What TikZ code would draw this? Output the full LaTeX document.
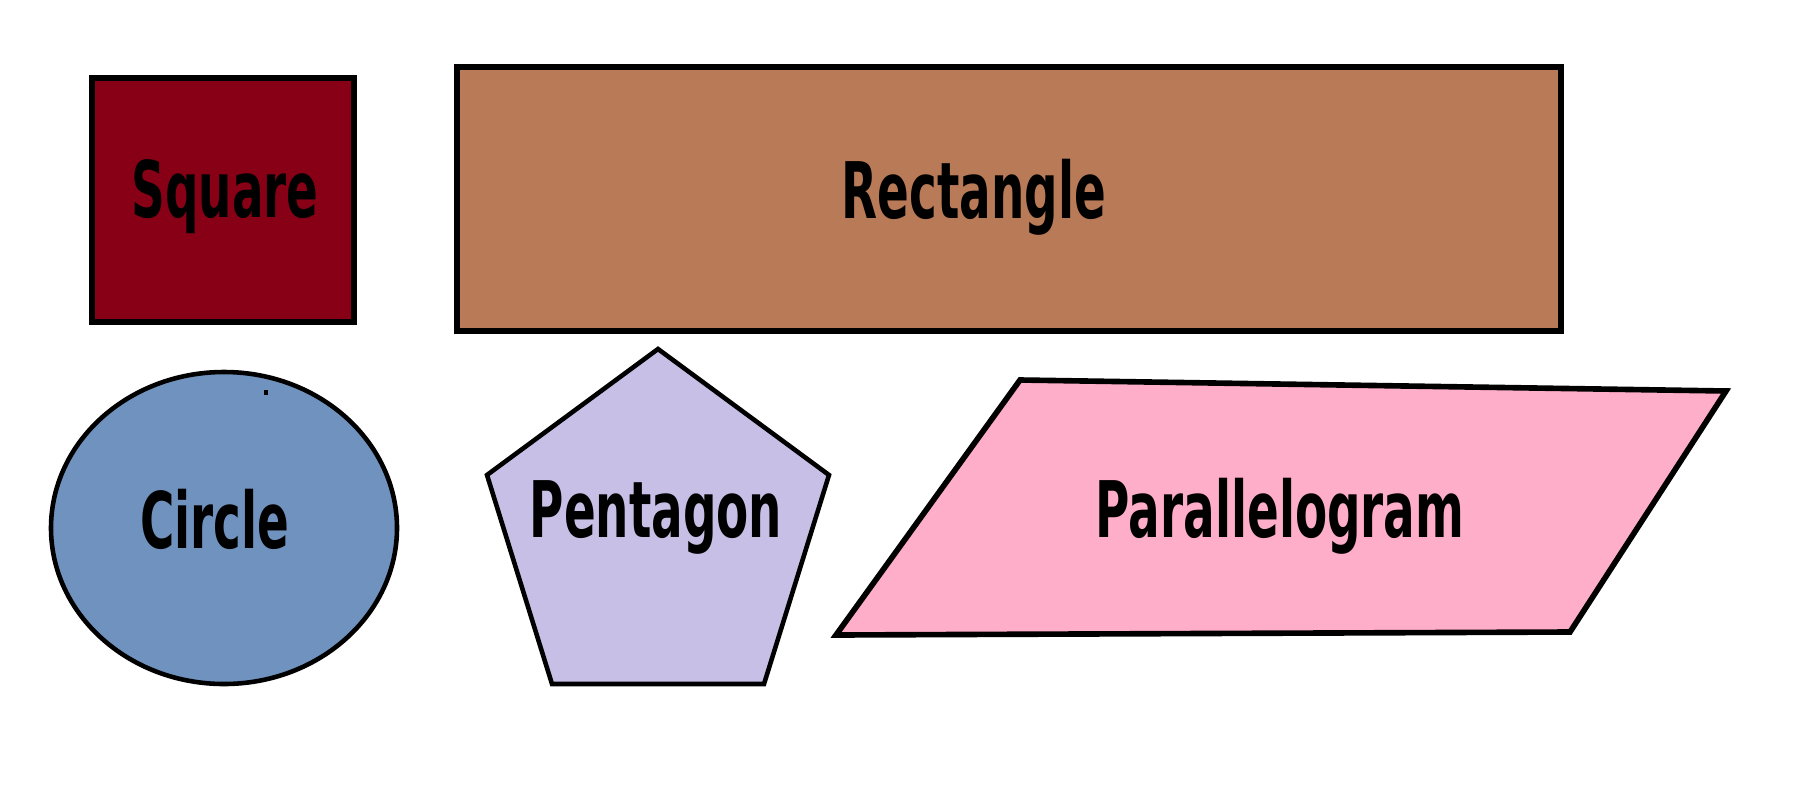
\documentclass[tikz,border=0pt]{standalone}
\usepackage{fontspec}
\newfontfamily\shapefont{DejaVu Sans}[FakeStretch=0.6]
\definecolor{darkred}{RGB}{136,0,21}
\definecolor{brownfill}{RGB}{185,122,87}
\definecolor{bluegray}{RGB}{112,146,190}
\definecolor{lavender}{RGB}{200,191,231}
\definecolor{rosefill}{RGB}{255,174,201}

\begin{document}
\begin{tikzpicture}[x=0.01cm,y=-0.01cm,
    heavy/.style={draw=black,line width=1.6pt},
    light/.style={draw=black,line width=1.3pt},
    shapetext/.style={font=\shapefont\bfseries\fontsize{22.2}{26}\selectfont,anchor=base,inner sep=0pt}]
        \useasboundingbox (0,0) rectangle (1801,806);

        % top row
        \coordinate (sq1) at (92,78);
        \coordinate (sq2) at (354,322);
        \coordinate (re1) at (457,67);
        \coordinate (re2) at (1561,331);
        \filldraw[heavy,fill=darkred] (sq1) rectangle (sq2);
        \filldraw[heavy,fill=brownfill] (re1) rectangle (re2);
        \node[shapetext] (square) at (225,217) {Square};
        \node[shapetext] (rect) at (974,218) {Rectangle};

        % circle
        \coordinate (C) at (224,528);
        \filldraw[light,fill=bluegray] (C) ellipse [x radius=173,y radius=156];
        \fill (264,390) rectangle (268,395);
        \node[shapetext] (circle) at (215,548) {Circle};

        % pentagon
        \coordinate (P1) at (658,349);
        \coordinate (P2) at (829,475);
        \coordinate (P3) at (764,684);
        \coordinate (P4) at (552,684);
        \coordinate (P5) at (487,475);
        \filldraw[light,fill=lavender] (P1)--(P2)--(P3)--(P4)--(P5)--cycle;
        \node[shapetext] (penta) at (656,537) {Pentagon};

        % parallelogram
        \coordinate (Q1) at (1020,380);
        \coordinate (Q2) at (1726,391);
        \coordinate (Q3) at (1570,632);
        \coordinate (Q4) at (836,635);
        \filldraw[heavy,fill=rosefill] (Q1)--(Q2)--(Q3)--(Q4)--cycle;
        \node[shapetext] (para) at (1280,537) {Parallelogram};
\end{tikzpicture}
\end{document}
